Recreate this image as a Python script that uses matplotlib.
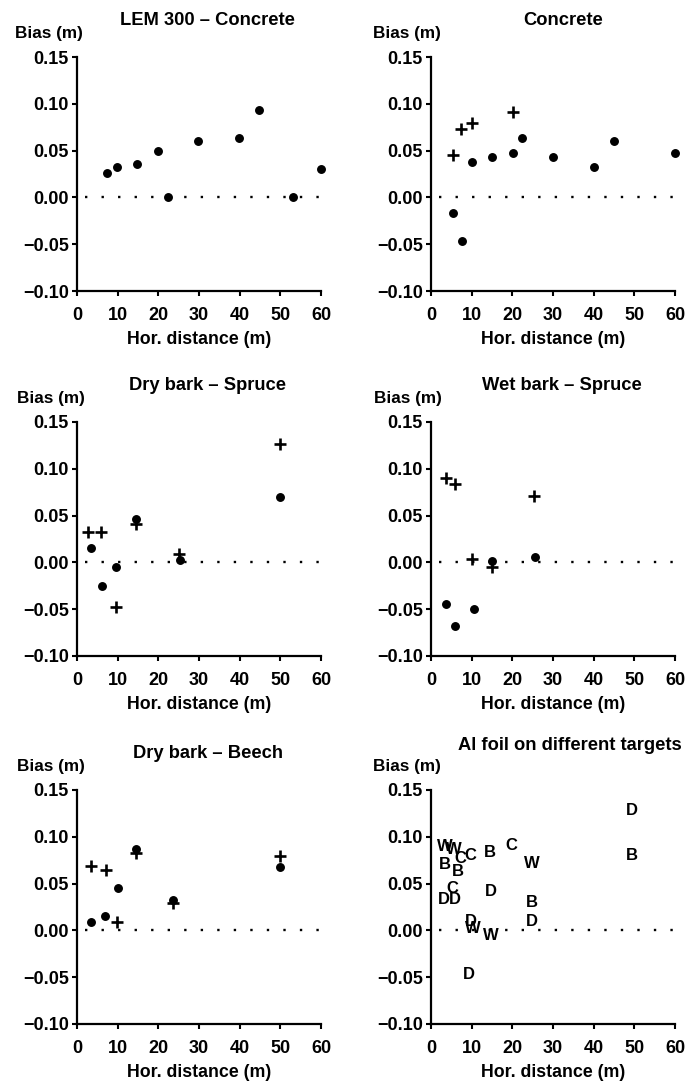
import matplotlib
matplotlib.use("Agg")
import matplotlib.pyplot as plt

plt.rcParams['font.family'] = ['Liberation Sans', 'DejaVu Sans']
plt.rcParams['font.weight'] = 'bold'

titles = ["LEM 300 \u2013 Concrete", "Concrete", "Dry bark \u2013 Spruce",
          "Wet bark \u2013 Spruce", "Dry bark \u2013 Beech", "Al foil on different targets"]

# Panel 1: LEM 300 - Concrete (dots)
p1_dot_x = [7.4, 9.9, 14.8, 19.8, 22.4, 29.7, 39.8, 44.8, 53.2, 60.0]
p1_dot_y = [0.026, 0.033, 0.036, 0.050, 0.000, 0.060, 0.063, 0.093, 0.000, 0.030]

# Panel 2: Concrete
p2_dot_x = [5.5, 7.6, 10.1, 15.1, 20.1, 22.4, 30.1, 40.1, 45.1, 60.0]
p2_dot_y = [-0.017, -0.047, 0.038, 0.043, 0.047, 0.063, 0.043, 0.033, 0.060, 0.047]
p2_plus_x = [5.3, 7.3, 10.2, 20.2]
p2_plus_y = [0.045, 0.073, 0.079, 0.091]

# Panel 3: Dry bark - Spruce
p3_dot_x = [3.4, 6.2, 9.5, 14.6, 25.3, 50.0]
p3_dot_y = [0.015, -0.025, -0.005, 0.046, 0.003, 0.070]
p3_plus_x = [2.7, 6.0, 9.7, 14.6, 25.1, 49.8]
p3_plus_y = [0.032, 0.032, -0.048, 0.041, 0.009, 0.127]

# Panel 4: Wet bark - Spruce
p4_dot_x = [3.8, 6.0, 10.5, 15.0, 25.5]
p4_dot_y = [-0.044, -0.068, -0.050, 0.002, 0.006]
p4_plus_x = [3.7, 5.8, 10.1, 14.9, 25.4]
p4_plus_y = [0.090, 0.084, 0.004, -0.005, 0.071]

# Panel 5: Dry bark - Beech
p5_dot_x = [3.5, 6.8, 10.1, 14.6, 23.5, 50.0]
p5_dot_y = [0.009, 0.015, 0.045, 0.087, 0.033, 0.068]
p5_plus_x = [3.5, 7.1, 9.9, 14.6, 23.5, 50.0]
p5_plus_y = [0.069, 0.064, 0.009, 0.083, 0.029, 0.080]

# Panel 6: Al foil on different targets (letters)
p6_label = ["W", "W", "C", "C", "B", "B", "C", "D", "D", "B", "C", "D",
            "W", "B", "D", "D", "B", "D", "W", "W", "D"]
p6_x = [3.3, 5.6, 7.2, 9.7, 3.4, 6.6, 5.2, 3.1, 5.8, 14.6, 19.7, 14.7,
        24.9, 24.8, 24.9, 49.5, 49.5, 9.8, 10.2, 14.7, 9.4]
p6_y = [0.090, 0.086, 0.077, 0.080, 0.070, 0.063, 0.045, 0.033, 0.033, 0.083, 0.091, 0.042,
        0.072, 0.030, 0.010, 0.128, 0.080, 0.010, 0.002, -0.005, -0.047]

xticks = [0, 10, 20, 30, 40, 50, 60]
yticks = [-0.10, -0.05, 0.00, 0.05, 0.10, 0.15]
ytick_labels = ["\u22120.10", "\u22120.05", "0.00", "0.05", "0.10", "0.15"]

W, H = 689, 1081
fig = plt.figure(figsize=(W / 100, H / 100), dpi=100)

lefts = [77, 431]
tops = [57, 422, 790]
aw, ah = 244, 234

axes = []
for r in range(3):
    for c in range(2):
        ax = fig.add_axes([lefts[c] / W, 1 - (tops[r] + ah) / H, aw / W, ah / H])
        axes.append(ax)

dots = [(p1_dot_x, p1_dot_y), (p2_dot_x, p2_dot_y), (p3_dot_x, p3_dot_y),
        (p4_dot_x, p4_dot_y), (p5_dot_x, p5_dot_y), None]
pluses = [None, (p2_plus_x, p2_plus_y), (p3_plus_x, p3_plus_y),
          (p4_plus_x, p4_plus_y), (p5_plus_x, p5_plus_y), None]

title_x = [0.535, 0.54, 0.535, 0.535, 0.537, 0.57]
title_y = [1.158, 1.158, 1.158, 1.158, 1.158, 1.19]
bias_x = [-0.115, -0.098, -0.107, -0.094, -0.107, -0.098]

for i, ax in enumerate(axes):
    ax.set_xlim(0, 60)
    ax.set_ylim(-0.10, 0.15)
    for s in ['top', 'right']:
        ax.spines[s].set_visible(False)
    for s in ['left', 'bottom']:
        ax.spines[s].set_linewidth(1.6)
    ax.set_xticks(xticks)
    ax.set_xticklabels([str(t) for t in xticks])
    ax.set_yticks(yticks)
    ax.set_yticklabels(ytick_labels)
    ax.tick_params(axis='both', direction='out', length=3.5, width=1.5,
                   labelsize=13)
    ax.tick_params(axis='x', pad=8)
    ax.tick_params(axis='y', pad=2.5)
    for lab in ax.get_xticklabels() + ax.get_yticklabels():
        lab.set_fontweight('bold')
    ax.plot([2, 60], [0, 0], color='black', lw=1.7,
            linestyle=(0, (1, 6.0)), dash_capstyle='butt', clip_on=False)
    if dots[i] is not None:
        ax.plot(dots[i][0], dots[i][1], 'o', color='black', ms=5.4,
                clip_on=False, zorder=3)
    if pluses[i] is not None:
        ax.plot(pluses[i][0], pluses[i][1], '+', color='black', ms=8,
                mew=1.9, clip_on=False, zorder=3)
    if i == 5:
        for lx, ly, lt in zip(p6_x, p6_y, p6_label):
            ax.text(lx, ly, lt, ha='center', va='center', fontsize=12,
                    fontweight='bold', color='black', clip_on=False)
    ax.set_xlabel("Hor. distance (m)", fontsize=12.8, fontweight='bold', labelpad=5)
    ax.text(bias_x[i], 1.102, "Bias (m)", transform=ax.transAxes, ha='center',
            va='center', fontsize=12.3, fontweight='bold')
    ax.text(title_x[i], title_y[i], titles[i], transform=ax.transAxes, ha='center',
            va='center', fontsize=13.2, fontweight='bold')

fig.savefig("out.png", dpi=100)
